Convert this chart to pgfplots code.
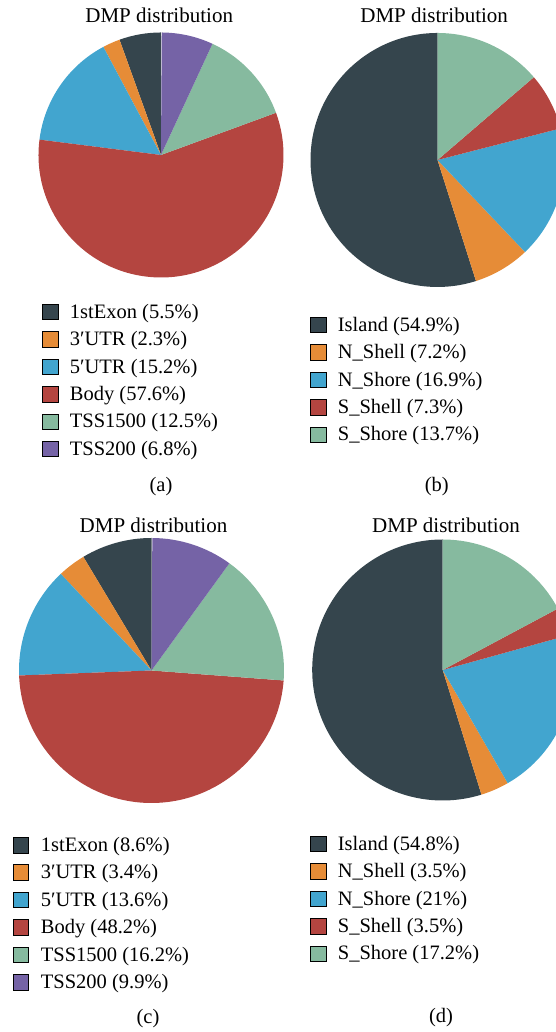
\documentclass[border=0pt]{standalone}
\usepackage{pgfplots}
\pgfplotsset{compat=1.18}
\usepackage{pgfplotstable}
\usepackage{fontspec}
\setmainfont{Liberation Serif}

\definecolor{cDark}{HTML}{35454D}
\definecolor{cOrange}{HTML}{E68C37}
\definecolor{cBlue}{HTML}{42A5CF}
\definecolor{cRed}{HTML}{B44540}
\definecolor{cGreen}{HTML}{86BA9F}
\definecolor{cPurple}{HTML}{7563A6}

% pie centre (x,y); info = start angle / percentage / colour / radius
\pgfplotstableread{
x y info
161 877 90/5.5/cDark/122.5
161 877 109.8/2.3/cOrange/122.5
161 877 118.08/15.2/cBlue/122.5
161 877 172.8/57.6/cRed/122.5
161 877 380.16/12.5/cGreen/122.5
161 877 425.16/6.8/cPurple/122.5
}\tabA
\pgfplotstableread{
x y info
437.5 872 90/54.9/cDark/127
437.5 872 287.64/7.2/cOrange/127
437.5 872 313.56/16.9/cBlue/127
437.5 872 374.4/7.3/cRed/127
437.5 872 400.68/13.7/cGreen/127
}\tabB
\pgfplotstableread{
x y info
151.5 361.5 90/8.6/cDark/132.5
151.5 361.5 120.96/3.4/cOrange/132.5
151.5 361.5 133.2/13.6/cBlue/132.5
151.5 361.5 182.16/48.2/cRed/132.5
151.5 361.5 355.68/16.2/cGreen/132.5
151.5 361.5 414/9.9/cPurple/132.5
}\tabC
\pgfplotstableread{
x y info
442.7 362 90/54.8/cDark/130.5
442.7 362 287.28/3.5/cOrange/130.5
442.7 362 299.88/21/cBlue/130.5
442.7 362 375.48/3.5/cRed/130.5
442.7 362 388.08/17.2/cGreen/130.5
}\tabD

\pgfdeclareplotmark{nothing}{}
\def\parseslice#1/#2/#3/#4\relax{\def\wStart{#1}\def\wPct{#2}\def\wCol{#3}\def\wR{#4}}

\pgfplotsset{
  pieaxis/.style={at={(0,0)}, anchor=south west, x=1pt, y=1pt,
    xmin=0, xmax=556, ymin=0, ymax=1032, hide axis,
    clip=true, clip marker paths=true, clip bounding box=upper bound,
    enlargelimits=false,
    legend cell align=left,
    legend image code/.code={\fill[##1] (0pt,-6.3pt) rectangle (15.5pt,9.2pt);},
    legend style={draw=none, fill=none, inner sep=0pt, outer sep=0pt,
      anchor=north west, row sep=9pt, column sep=12pt,
      font=\fontsize{20.5}{24}\selectfont,
      nodes={inner sep=0pt, text height=14pt, text depth=4pt}},
  },
  pieplot/.style={scatter, only marks, mark=nothing, forget plot,
    point meta=explicit symbolic,
    scatter/@pre marker code/.code={%
      \expandafter\parseslice\pgfplotspointmeta\relax
      \pgfscope
      \pgfmathsetmacro\wEnd{\wStart+3.6*\wPct}%
      \pgfsetfillcolor{\wCol}%
      \pgfpathmoveto{\pgfpointorigin}%
      \pgfpathlineto{\pgfpointpolar{\wStart}{\wR pt}}%
      \pgfpatharc{\wStart}{\wEnd}{\wR pt}%
      \pgfpathclose
      \pgfusepath{fill}%
      \endpgfscope
    },
    scatter/@post marker code/.code={},
  },
}

\newcommand\titfont{\fontsize{21}{25}\selectfont}
\newcommand\labfont{\fontsize{20.5}{24}\selectfont}

\begin{document}
\begin{tikzpicture}[x=1pt,y=1pt]
\path (0,0) rectangle (556,1032);

% (a)
\begin{axis}[pieaxis, legend style={at={(0.07554,0.70543)}}]
\addplot[pieplot] table[x=x,y=y,meta=info] {\tabA};
\addlegendimage{fill=cDark}\addlegendentry{1stExon (5.5\%)}
\addlegendimage{fill=cOrange}\addlegendentry{3′UTR (2.3\%)}
\addlegendimage{fill=cBlue}\addlegendentry{5′UTR (15.2\%)}
\addlegendimage{fill=cRed}\addlegendentry{Body (57.6\%)}
\addlegendimage{fill=cGreen}\addlegendentry{TSS1500 (12.5\%)}
\addlegendimage{fill=cPurple}\addlegendentry{TSS200 (6.8\%)}
\node[font=\titfont, anchor=base, inner sep=0pt] at (axis cs:159.2,1009) {DMP distribution};
\node[font=\labfont, anchor=base, inner sep=0pt] at (axis cs:161,540.6) {(a)};
\end{axis}

% (b)
\begin{axis}[pieaxis, legend style={at={(0.55755,0.69283)}}]
\addplot[pieplot] table[x=x,y=y,meta=info] {\tabB};
\addlegendimage{fill=cDark}\addlegendentry{Island (54.9\%)}
\addlegendimage{fill=cOrange}\addlegendentry{N\_Shell (7.2\%)}
\addlegendimage{fill=cBlue}\addlegendentry{N\_Shore (16.9\%)}
\addlegendimage{fill=cRed}\addlegendentry{S\_Shell (7.3\%)}
\addlegendimage{fill=cGreen}\addlegendentry{S\_Shore (13.7\%)}
\node[font=\titfont, anchor=base, inner sep=0pt] at (axis cs:434.2,1009) {DMP distribution};
\node[font=\labfont, anchor=base, inner sep=0pt] at (axis cs:436.7,540.6) {(b)};
\end{axis}

% (c)
\begin{axis}[pieaxis, legend style={at={(0.02338,0.18895)}}]
\addplot[pieplot] table[x=x,y=y,meta=info] {\tabC};
\addlegendimage{fill=cDark}\addlegendentry{1stExon (8.6\%)}
\addlegendimage{fill=cOrange}\addlegendentry{3′UTR (3.4\%)}
\addlegendimage{fill=cBlue}\addlegendentry{5′UTR (13.6\%)}
\addlegendimage{fill=cRed}\addlegendentry{Body (48.2\%)}
\addlegendimage{fill=cGreen}\addlegendentry{TSS1500 (16.2\%)}
\addlegendimage{fill=cPurple}\addlegendentry{TSS200 (9.9\%)}
\node[font=\titfont, anchor=base, inner sep=0pt] at (axis cs:153.5,499.5) {DMP distribution};
\node[font=\labfont, anchor=base, inner sep=0pt] at (axis cs:148,8.6) {(c)};
\end{axis}

% (d)
\begin{axis}[pieaxis, legend style={at={(0.55755,0.18992)}}]
\addplot[pieplot] table[x=x,y=y,meta=info] {\tabD};
\addlegendimage{fill=cDark}\addlegendentry{Island (54.8\%)}
\addlegendimage{fill=cOrange}\addlegendentry{N\_Shell (3.5\%)}
\addlegendimage{fill=cBlue}\addlegendentry{N\_Shore (21\%)}
\addlegendimage{fill=cRed}\addlegendentry{S\_Shell (3.5\%)}
\addlegendimage{fill=cGreen}\addlegendentry{S\_Shore (17.2\%)}
\node[font=\titfont, anchor=base, inner sep=0pt] at (axis cs:446,499.5) {DMP distribution};
\node[font=\labfont, anchor=base, inner sep=0pt] at (axis cs:441,9.6) {(d)};
\end{axis}

\end{tikzpicture}
\end{document}
